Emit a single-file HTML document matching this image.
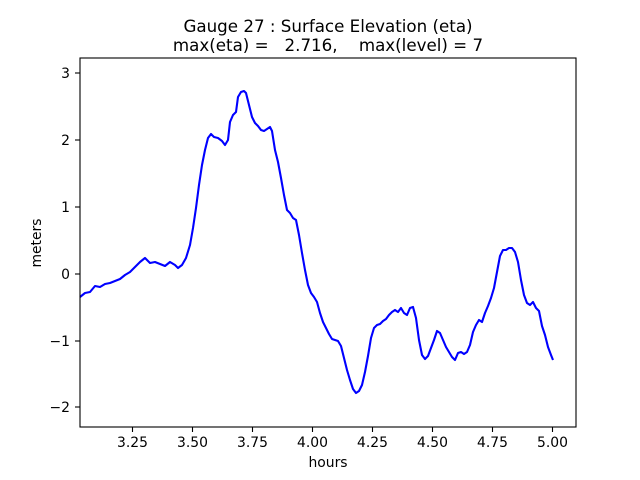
<!DOCTYPE html><html><head><style>body{margin:0;background:#fff}svg{display:block}text{font-family:"DejaVu Sans","Liberation Sans",sans-serif;font-size:13.9px;fill:#000}</style></head><body>
<svg width="640" height="480" viewBox="0 0 640 480" xmlns="http://www.w3.org/2000/svg">
<text x="328" y="32" text-anchor="middle" style="font-size:16.7px">Gauge 27 : Surface Elevation (eta)</text>
<text x="328" y="51" text-anchor="middle" style="font-size:16.7px;white-space:pre" xml:space="preserve">max(eta) =   2.716,    max(level) = 7</text>
<polyline fill="none" stroke="#0000ff" stroke-width="2.1" stroke-linejoin="round" points="80,297 85,293 90,292 95,286 100,287 105,284 110,283 115,281 120,279 125,275 130,272 135,267 140,262 145,258 150,263 155,262 160,264 165,266 170,262 175,265 178,268 182,265 186,258 190,245 193,228 196,208 199,185 202,165 205,150 208,138 211,134 214,137 218,138 222,141 225,145 228,140 230,122 233,115 236,112 238,97 241,92 244,91 246,93 249,105 252,117 255,123 258,126 261,130 264,131 267,129 270,127 272,131 275,150 278,162 281,178 284,195 287,210 290,213 293,218 296,220 299,235 302,253 305,270 308,285 311,293 314,297 317,302 320,313 323,322 326,328 329,334 332,339 335,340 338,341 341,346 344,358 347,370 350,380 353,389 356,393 359,391 362,385 365,372 368,356 371,338 374,328 377,325 380,324 383,321 386,319 389,315 392,312 395,310 398,312 401,308 404,313 407,315 410,308 413,307 416,318 419,340 422,355 425,359 428,356 431,348 434,340 437,331 440,333 443,340 446,347 449,352 452,357 455,360 458,353 461,352 464,354 467,352 470,345 473,332 476,325 479,320 482,322 485,313 488,306 491,298 494,288 497,272 500,256 503,250 506,250 509,248 512,248 515,252 518,262 521,280 524,295 527,303 530,305 533,302 536,308 539,311 542,326 545,335 548,347 551,355 553,360"/>
<rect x="80" y="58" width="496" height="369" fill="none" stroke="#000" stroke-width="1.1"/>
<g stroke="#000" stroke-width="1.1">
<line x1="132.5" y1="427" x2="132.5" y2="432"/><line x1="192.5" y1="427" x2="192.5" y2="432"/><line x1="252.5" y1="427" x2="252.5" y2="432"/><line x1="312.5" y1="427" x2="312.5" y2="432"/><line x1="372.5" y1="427" x2="372.5" y2="432"/><line x1="432.5" y1="427" x2="432.5" y2="432"/><line x1="492.5" y1="427" x2="492.5" y2="432"/><line x1="552.5" y1="427" x2="552.5" y2="432"/>
<line x1="75" y1="73" x2="80" y2="73"/><line x1="75" y1="140" x2="80" y2="140"/><line x1="75" y1="207" x2="80" y2="207"/><line x1="75" y1="274" x2="80" y2="274"/><line x1="75" y1="341" x2="80" y2="341"/><line x1="75" y1="407" x2="80" y2="407"/>
</g>
<g text-anchor="middle">
<text x="132.5" y="447">3.25</text><text x="192.5" y="447">3.50</text><text x="252.5" y="447">3.75</text><text x="312.5" y="447">4.00</text><text x="372.5" y="447">4.25</text><text x="432.5" y="447">4.50</text><text x="492.5" y="447">4.75</text><text x="552.5" y="447">5.00</text>
<text x="328" y="467">hours</text>
</g>
<g text-anchor="end">
<text x="70" y="78">3</text><text x="70" y="145">2</text><text x="70" y="212">1</text><text x="70" y="279">0</text><text x="70" y="346">−1</text><text x="70" y="412">−2</text>
</g>
<text x="41" y="243" text-anchor="middle" transform="rotate(-90 41 243)">meters</text>
</svg></body></html>
